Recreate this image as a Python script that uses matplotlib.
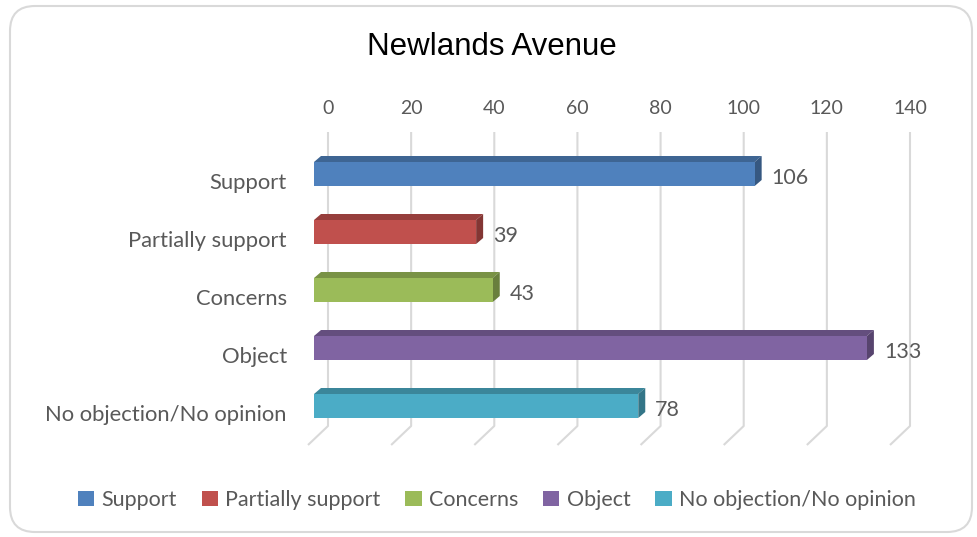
import numpy as np
import matplotlib.pyplot as plt
from matplotlib.patches import Polygon, FancyBboxPatch, Patch
from matplotlib.colors import to_rgb

categories = ['Support', 'Partially support', 'Concerns', 'Object', 'No objection/No opinion']
values = [106, 39, 43, 133, 78]
colors = ['#4F81BD', '#C0504D', '#9BBB59', '#8064A2', '#4BACC6']
ticks = [0, 20, 40, 60, 80, 100, 120, 140]

FONT = 'Lato'
TXT = '#595959'
GRID = '#d9d9d9'


def shade(c, f):
    r, g, b = to_rgb(c)
    return (r * f, g * f, b * f)


fig = plt.figure(figsize=(9.78, 5.37), dpi=100)

# axes in pixel terms: left 300, right 940, top 120, bottom 450
W, H = 978.0, 537.0
ax = fig.add_axes([300 / W, 1 - 450 / H, 640 / W, 330 / H])
ppu = (910 - 328) / 140.0          # pixels per value unit
ppc = 58.0                         # pixels per category
ax.set_xlim((300 - 328) / ppu, (940 - 328) / ppu)
ax.set_ylim((450 - 183) / ppc, (120 - 183) / ppc)
ax.axis('off')

# 3D offsets (data units)
front_dx = -14 / ppu
depth_dx = 7 / ppu
depth_dy = -6 / ppc
bar_h = 24 / ppc
bar_off = -9 / ppc

# back wall gridlines with floor
g_top = (132 - 183) / ppc
g_bot = (426 - 183) / ppc
for t in ticks:
    ax.plot([t, t, t - 20 / ppu], [g_top, g_bot, g_bot + 19 / ppc],
            color=GRID, lw=1.5, solid_capstyle='butt', zorder=1)
    ax.text(t, (108 - 183) / ppc, str(t), ha='center', va='center',
            fontsize=14, color=TXT, family=FONT)

for i, (cat, v, c) in enumerate(zip(categories, values, colors)):
    x0 = front_dx
    x1 = v + front_dx
    yc = i + bar_off
    yt = yc - bar_h / 2
    yb = yc + bar_h / 2
    # top face
    ax.add_patch(Polygon([(x0, yt), (x1, yt), (x1 + depth_dx, yt + depth_dy),
                          (x0 + depth_dx, yt + depth_dy)],
                         closed=True, fc=shade(c, 0.78), ec='none', zorder=3))
    # side face
    ax.add_patch(Polygon([(x1, yt), (x1 + depth_dx, yt + depth_dy),
                          (x1 + depth_dx, yb + depth_dy), (x1, yb)],
                         closed=True, fc=shade(c, 0.68), ec='none', zorder=3))
    # front face
    ax.add_patch(Polygon([(x0, yt), (x1, yt), (x1, yb), (x0, yb)],
                         closed=True, fc=c, ec='none', zorder=4))
    ax.text(x1 + depth_dx + 10 / ppu, yc + 4 / ppc, str(v), ha='left', va='center',
            fontsize=15.5, color=TXT, family=FONT, zorder=5)
    ax.text((287 - 328) / ppu, i, cat, ha='right', va='center',
            fontsize=15.8, color=TXT, family=FONT)

fig.text(492 / W, 1 - 47 / H, 'Newlands Avenue', ha='center', va='center',
         fontsize=22.5, color='black', family='Liberation Sans')

handles = [Patch(facecolor=c, edgecolor='none') for c in colors]
leg = fig.legend(handles, categories, loc='center', ncol=5,
                 bbox_to_anchor=(497 / W, 1 - 500 / H), frameon=False,
                 handlelength=0.75, handleheight=0.75, handletextpad=0.35,
                 columnspacing=1.15, prop={'family': FONT, 'size': 15.5})
for t in leg.get_texts():
    t.set_color(TXT)

border = FancyBboxPatch((10, 5), 962, 526, boxstyle='round,pad=0,rounding_size=25',
                        transform=None, fc='none', ec='#d9d9d9', lw=1.5)
fig.patches.append(border)

fig.savefig('out.png', dpi=100)
